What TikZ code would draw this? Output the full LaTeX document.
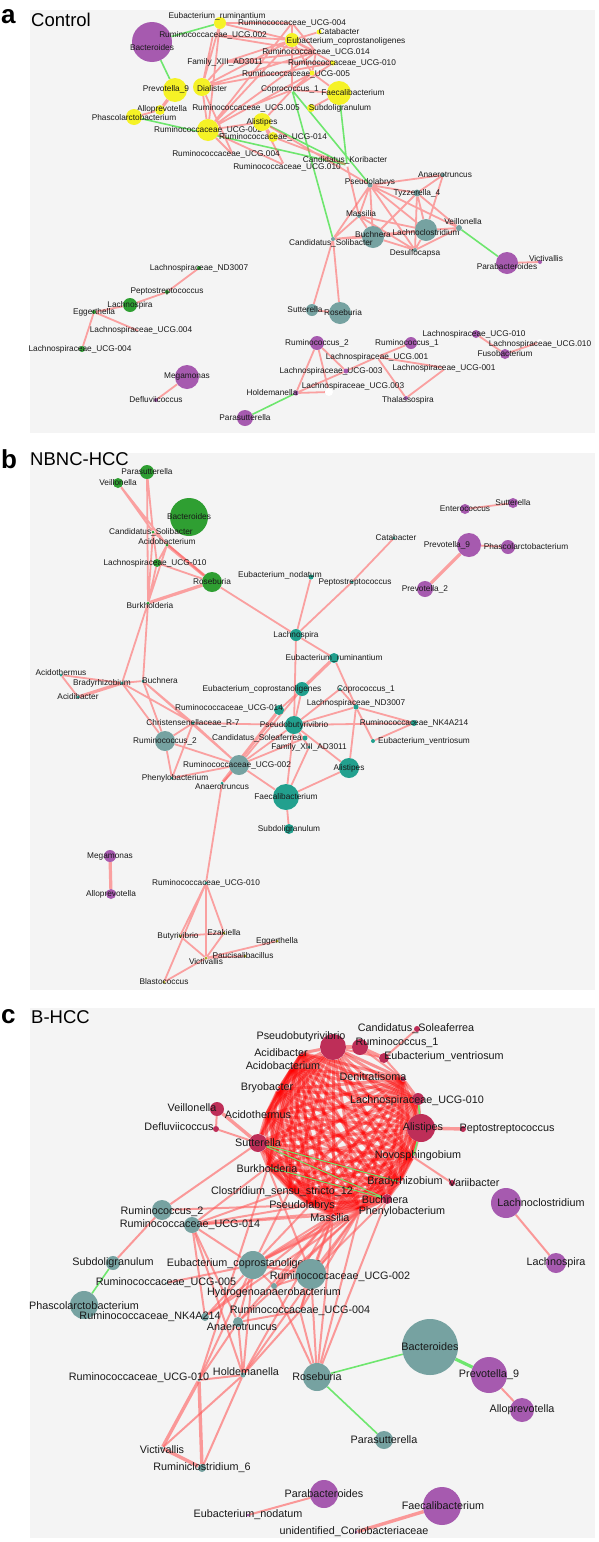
\documentclass[tikz,border=0pt]{standalone}
\usepackage{fontspec}
\setmainfont{Liberation Sans}
\usepackage{tikz}

\definecolor{panelbg}{HTML}{F4F4F4}
\definecolor{yelnode}{HTML}{F5F226}
\definecolor{purnode}{HTML}{A65AAF}
\definecolor{tgnode}{HTML}{76A2A1}
\definecolor{grnnode}{HTML}{2F9F32}
\definecolor{tlnode}{HTML}{22A08E}
\definecolor{crimnode}{HTML}{BE2E58}
\definecolor{olvnode}{HTML}{ABA91A}
\definecolor{edgered}{HTML}{FF5C5C}
\definecolor{edgegreen}{HTML}{6EE66E}

\pgfdeclarelayer{bg}
\pgfsetlayers{bg,main}

\tikzset{
  la/.style={font=\fontsize{8.3}{9}\selectfont, inner sep=0pt, text=black!90},
  lc/.style={font=\fontsize{10.8}{12}\selectfont, inner sep=0pt, text=black!90},
  sz/.style={circle, inner sep=0pt, minimum size=#1pt},
  yel/.style={fill=yelnode}, pur/.style={fill=purnode}, tg/.style={fill=tgnode},
  grn/.style={fill=grnnode}, tl/.style={fill=tlnode}, crim/.style={fill=crimnode},
  olv/.style={fill=olvnode}, wht/.style={fill=white},
  re/.style={draw=edgered, draw opacity=.55, line width=1.8pt},
  reb/.style={re, line width=3.2pt},
  ge/.style={draw=edgegreen, line width=1.6pt},
  geb/.style={ge, line width=3.2pt},
  rc/.style={draw=red, draw opacity=.4, line width=3pt},
  rcl/.style={draw=edgered, draw opacity=.6, line width=2pt},
  panel/.style={fill=panelbg, draw=none},
  letter/.style={font=\bfseries\fontsize{26}{28}\selectfont, anchor=west, inner sep=0pt},
  title/.style={font=\fontsize{18.5}{20}\selectfont, anchor=west, inner sep=0pt}
}

\begin{document}
\begin{tikzpicture}[x=1pt,y=-1pt]
\useasboundingbox (0,0) rectangle (598,1542);
\begin{pgfonlayer}{bg}
\fill[white] (0,0) rectangle (598,1542);
\fill[panel] (30,10) rectangle (595,433);
\fill[panel] (30,453) rectangle (595,990);
\fill[panel] (30,1008) rectangle (595,1538);
\end{pgfonlayer}

% ---------------- a: Control
\node[letter] (leta) at (1,17) {a};
\node[title] (tita) at (31,20) {Control};

\node[pur,sz=40,label={[la,yshift=-6pt]center:Bacteroides}] (abact) at (152,42) {};
\node[yel,sz=12,label={[la,xshift=-3pt,yshift=7pt]center:Eubacterium\_ruminantium}] (aerum) at (220,23) {};
\node[wht,sz=3,label={[la]center:Ruminococcaceae\_UCG.002}] (ar002a) at (213,35) {};
\node[wht,sz=3,label={[la]center:Ruminococcaceae\_UCG-004}] (ar004a) at (292,23) {};
\node[yel,sz=14,label={[la,xshift=54pt,yshift=-1pt]center:Eubacterium\_coprostanoligenes}] (aecop) at (292,40) {};
\node[yel,sz=5,label={[la,xshift=20pt]center:Catabacter}] (acata) at (319,32) {};
\node[wht,sz=3,label={[la]center:Ruminococcaceae\_UCG.014}] (ar014a) at (316,52) {};
\node[wht,sz=3,label={[la]center:Family\_XIII\_AD3011}] (afam) at (225,62) {};
\node[yel,sz=5,label={[la,xshift=9pt]center:Ruminococcaceae\_UCG-010}] (ar010a) at (333,63) {};
\node[yel,sz=5,label={[la,xshift=-16pt,yshift=-1pt]center:Ruminococcaceae\_UCG-005}] (ar005a) at (312,73) {};
\node[yel,sz=24,label={[la,xshift=-9pt,yshift=1pt]center:Prevotella\_9}] (aprev) at (175,90) {};
\node[yel,sz=18,label={[la,xshift=10pt,yshift=-2pt]center:Dialister}] (adial) at (202,87) {};
\node[wht,sz=3,label={[la,xshift=-2pt,yshift=1pt]center:Coprococcus\_1}] (acopr) at (292,90) {};
\node[yel,sz=24,label={[la,xshift=14pt]center:Faecalibacterium}] (afaec) at (339,93) {};
\node[yel,sz=8,label={[la,xshift=29pt]center:Subdoligranulum}] (asubd) at (311,108) {};
\node[yel,sz=10,label={[la,xshift=2pt,yshift=1pt]center:Alloprevotella}] (aallo) at (160,110) {};
\node[yel,sz=16,label={[la,yshift=-1pt]center:Phascolarctobacterium}] (aphas) at (134,117) {};
\node[wht,sz=3,label={[la]center:Ruminococcaceae\_UCG.005}] (ar005b) at (246,108) {};
\node[yel,sz=22,label={[la]center:Ruminococcaceae\_UCG-002}] (ar002b) at (208,130) {};
\node[yel,sz=18,label={[la]center:Alistipes}] (alist) at (262,122) {};
\node[yel,sz=10,label={[la]center:Ruminococcaceae\_UCG-014}] (ar014b) at (273,137) {};
\node[wht,sz=3,label={[la,xshift=-7pt,yshift=1pt]center:Ruminococcaceae\_UCG.004}] (ar004b) at (233,155) {};
\node[wht,sz=3,label={[la,xshift=3pt,yshift=-2pt]center:Ruminococcaceae\_UCG.010}] (ar010b) at (284,165) {};
\node[wht,sz=3,label={[la,xshift=-2pt,yshift=5pt]center:Candidatus\_Koribacter}] (akori) at (347,165) {};
\node[tg,sz=4,label={[la,xshift=2pt]center:Anaerotruncus}] (aanae) at (443,175) {};
\node[tg,sz=5,label={[la,yshift=3pt]center:Pseudolabrys}] (apseu) at (370,185) {};
\node[tg,sz=7,label={[la]center:Tyzzerella\_4}] (atyzz) at (417,193) {};
\node[tg,sz=4,label={[la,xshift=2pt,yshift=2pt]center:Massilia}] (amass) at (359,216) {};
\node[tg,sz=22,label={[la,yshift=2pt]center:Buchnera}] (abuch) at (373,237) {};
\node[tg,sz=22,label={[la,yshift=-3pt]center:Lachnoclostridium}] (alach) at (426,230) {};
\node[tg,sz=6,label={[la,xshift=4pt,yshift=6pt]center:Veillonella}] (aveil) at (459,228) {};
\node[tg,sz=4,label={[la,xshift=-2pt,yshift=-4pt]center:Candidatus\_Solibacter}] (asoli) at (333,239) {};
\node[tg,sz=4,label={[la,yshift=-3pt]center:Desulfocapsa}] (adesu) at (415,250) {};
\node[pur,sz=22,label={[la,yshift=-4pt]center:Parabacteroides}] (aparab) at (507,263) {};
\node[pur,sz=4,label={[la,xshift=6pt,yshift=3pt]center:Victivallis}] (avict) at (540,262) {};
\node[grn,sz=4,label={[la]center:Lachnospiraceae\_ND3007}] (and3) at (199,268) {};
\node[grn,sz=4,label={[la]center:Peptostreptococcus}] (apept) at (167,292) {};
\node[grn,sz=14,label={[la]center:Lachnospira}] (alachs) at (130,305) {};
\node[grn,sz=4,label={[la]center:Eggerthella}] (aegge) at (94,312) {};
\node[wht,sz=6,label={[la,yshift=2pt]center:Lachnospiraceae\_UCG.004}] (al004a) at (141,332) {};
\node[grn,sz=6,label={[la,xshift=-2pt]center:Lachnospiraceae\_UCG-004}] (al004b) at (82,349) {};
\node[tg,sz=12,label={[la,xshift=-7pt]center:Sutterella}] (asutt) at (312,310) {};
\node[tg,sz=22,label={[la,xshift=3pt]center:Roseburia}] (arose) at (340,313) {};
\node[pur,sz=14,label={[la]center:Ruminococcus\_2}] (arum2) at (317,343) {};
\node[pur,sz=12,label={[la,xshift=-4pt]center:Ruminococcus\_1}] (arum1) at (411,343) {};
\node[pur,sz=8,label={[la,xshift=-2pt]center:Lachnospiraceae\_UCG-010}] (al010a) at (476,334) {};
\node[wht,sz=6,label={[la,yshift=-2pt]center:Lachnospiraceae\_UCG.010}] (al010b) at (540,342) {};
\node[pur,sz=10,label={[la]center:Fusobacterium}] (afuso) at (505,354) {};
\node[wht,sz=5,label={[la]center:Lachnospiraceae\_UCG.001}] (al001a) at (377,357) {};
\node[pur,sz=5,label={[la,xshift=-15pt]center:Lachnospiraceae\_UCG-003}] (al003a) at (346,371) {};
\node[wht,sz=5,label={[la,xshift=-2pt]center:Lachnospiraceae\_UCG-001}] (al001b) at (446,368) {};
\node[pur,sz=24,label={[la]center:Megamonas}] (amega) at (187,377) {};
\node[pur,sz=4,label={[la]center:Defluviicoccus}] (adefl) at (156,400) {};
\node[pur,sz=5,label={[la,xshift=-24pt]center:Holdemanella}] (ahold) at (296,393) {};
\node[wht,sz=8,label={[la,xshift=24pt,yshift=6pt]center:Lachnospiraceae\_UCG.003}] (al003b) at (329,392) {};
\node[pur,sz=4,label={[la,xshift=2pt,yshift=-2pt]center:Thalassospira}] (athal) at (406,398) {};
\node[pur,sz=16,label={[la]center:Parasutterella}] (apara) at (245,418) {};

\begin{pgfonlayer}{bg}
% correlations, Control
\draw[ge] (abact) -- (aerum) (abact) -- (aprev) (aphas) -- (akori) (alist) -- (akori)
  (afaec) -- (akori) (acopr) -- (asoli) (acopr) -- (apseu) (aveil) -- (aparab) (ahold) -- (apara);
\draw[reb] (aprev) -- (aallo);
\draw[re] (aallo) -- (aphas)
  (adial) -- (aerum) (adial) -- (ar002a) (adial) -- (aecop) (adial) -- (ar014a) (adial) -- (ar010a)
  (adial) -- (ar002b) (adial) -- (afam) (adial) -- (ar004b)
  (ar002b) -- (aerum) (ar002b) -- (aecop) (ar002b) -- (ar004a) (ar002b) -- (alist) (ar002b) -- (ar014a)
  (ar002b) -- (ar005a) (ar002b) -- (ar004b) (ar002b) -- (ar010b)
  (aerum) -- (aecop) (aerum) -- (ar004a) (aecop) -- (acata) (aecop) -- (ar004a) (aecop) -- (ar014a)
  (aecop) -- (ar010a) (aecop) -- (ar005a) (aecop) -- (acopr) (aecop) -- (afam) (ar002a) -- (aecop) (ar002a) -- (ar014a)
  (ar004a) -- (ar014a) (ar004a) -- (acopr) (ar014a) -- (ar005a) (ar010a) -- (acopr) (ar005a) -- (acopr)
  (acopr) -- (afaec) (acopr) -- (ar005b) (acopr) -- (alist) (afaec) -- (asubd) (afaec) -- (ar005a)
  (afam) -- (ar014a) (afam) -- (ar010a) (alist) -- (ar014b) (alist) -- (apseu) (alist) -- (ar010b)
  (ar014b) -- (akori) (akori) -- (amass);
\draw[re] (apseu) -- (aanae) (apseu) -- (atyzz) (apseu) -- (amass) (apseu) -- (abuch) (apseu) -- (alach)
  (apseu) -- (adesu) (apseu) -- (asoli) (apseu) -- (aveil) (aanae) -- (alach) (aanae) -- (atyzz)
  (atyzz) -- (alach) (atyzz) -- (abuch) (atyzz) -- (adesu) (atyzz) -- (aveil) (amass) -- (abuch)
  (amass) -- (asoli) (amass) -- (alach) (amass) -- (adesu) (abuch) -- (alach) (abuch) -- (asoli)
  (abuch) -- (adesu) (alach) -- (adesu) (alach) -- (aveil) (asoli) -- (alach) (aveil) -- (adesu)
  (asoli) -- (asutt) (asoli) -- (arose) (asutt) -- (arose) (aparab) -- (avict);
\draw[re] (and3) -- (apept) (apept) -- (alachs) (alachs) -- (aegge) (aegge) -- (al004a) (aegge) -- (al004b)
  (amega) -- (adefl) (arum2) -- (ahold) (arum2) -- (al003a) (arum2) -- (al003b) (ahold) -- (al003a)
  (ahold) -- (al003b) (al003a) -- (al001a) (arum1) -- (al001a) (al001a) -- (athal) (al001b) -- (athal)
  (al001a) -- (al001b) (al010a) -- (afuso) (afuso) -- (al010b);
\end{pgfonlayer}

% ---------------- b: NBNC-HCC
\node[letter] (letb) at (1,459) {b};
\node[title] (titb) at (30,459) {NBNC-HCC};

\node[grn,sz=14,label={[la]center:Parasutterella}] (bpara) at (147,472) {};
\node[grn,sz=10,label={[la]center:Veillonella}] (bveil) at (118,483) {};
\node[grn,sz=38,label={[la]center:Bacteroides}] (bbact) at (189,517) {};
\node[grn,sz=3,label={[la,xshift=-2pt]center:Candidatus\_Solibacter}] (bsoli) at (153,532) {};
\node[grn,sz=3,label={[la,yshift=3pt]center:Acidobacterium}] (bacido) at (167,545) {};
\node[grn,sz=8,label={[la,xshift=-2pt]center:Lachnospiraceae\_UCG-010}] (bl010) at (157,563) {};
\node[grn,sz=20,label={[la]center:Roseburia}] (brose) at (212,582) {};
\node[tl,sz=5,label={[la,xshift=-31pt,yshift=2pt]center:Eubacterium\_nodatum}] (bnoda) at (311,577) {};
\node[grn,sz=3,label={[la,xshift=2pt,yshift=-3pt]center:Burkholderia}] (bburk) at (148,603) {};
\node[tl,sz=12,label={[la]center:Lachnospira}] (blachs) at (296,635) {};
\node[tl,sz=10,label={[la]center:Eubacterium\_ruminantium}] (berum) at (334,658) {};
\node[pur,sz=10,label={[la]center:Enterococcus}] (bente) at (465,509) {};
\node[pur,sz=10,label={[la]center:Sutterella}] (bsutt) at (513,503) {};
\node[tl,sz=3,label={[la,xshift=2pt]center:Catabacter}] (bcata) at (394,538) {};
\node[pur,sz=24,label={[la,xshift=-22pt]center:Prevotella\_9}] (bprev9) at (469,545) {};
\node[pur,sz=14,label={[la,xshift=18pt]center:Phascolarctobacterium}] (bphas) at (508,547) {};
\node[tl,sz=3,label={[la,xshift=3pt]center:Peptostreptococcus}] (bpept) at (352,582) {};
\node[pur,sz=16,label={[la]center:Prevotella\_2}] (bprev2) at (425,589) {};
\node[tl,sz=3,label={[la,yshift=2pt]center:Acidothermus}] (bacth) at (61,675) {};
\node[tl,sz=3,label={[la,xshift=-20pt]center:Bradyrhizobium}] (bbrad) at (122,683) {};
\node[tl,sz=3,label={[la,xshift=17pt]center:Buchnera}] (bbuch) at (143,681) {};
\node[tl,sz=3,label={[la]center:Acidibacter}] (bacib) at (78,697) {};
\node[tl,sz=14,label={[la,xshift=-40pt]center:Eubacterium\_coprostanoligenes}] (becop) at (302,689) {};
\node[tl,sz=3,label={[la,xshift=26pt]center:Coprococcus\_1}] (bcopr) at (340,689) {};
\node[tl,sz=5,label={[la,yshift=4pt]center:Lachnospiraceae\_ND3007}] (bnd3) at (356,707) {};
\node[tl,sz=10,label={[la,xshift=-50pt,yshift=2pt]center:Ruminococcaceae\_UCG-014}] (br014) at (279,710) {};
\node[tl,sz=3,label={[la]center:Christensenellaceae\_R-7}] (bchri) at (193,723) {};
\node[tl,sz=18,label={[la]center:Pseudobutyrivibrio}] (bpseu) at (294,725) {};
\node[tl,sz=6,label={[la]center:Ruminococcaceae\_NK4A214}] (bnk4) at (414,723) {};
\node[tg,sz=20,label={[la]center:Ruminococcus\_2}] (brum2) at (165,741) {};
\node[tl,sz=5,label={[la,xshift=-48pt]center:Candidatus\_Soleaferrea}] (bsole) at (305,738) {};
\node[tl,sz=3,label={[la]center:Family\_XIII\_AD3011}] (bfam) at (309,747) {};
\node[tl,sz=4,label={[la,xshift=51pt]center:Eubacterium\_ventriosum}] (bvent) at (373,741) {};
\node[tg,sz=20,label={[la,xshift=-2pt]center:Ruminococcaceae\_UCG-002}] (br002) at (239,765) {};
\node[tl,sz=20,label={[la]center:Alistipes}] (balis) at (349,768) {};
\node[tl,sz=3,label={[la,xshift=3pt]center:Phenylobacterium}] (bphen) at (172,778) {};
\node[tl,sz=3,label={[la,yshift=-4pt]center:Anaerotruncus}] (banae) at (222,783) {};
\node[tl,sz=26,label={[la]center:Faecalibacterium}] (bfaec) at (286,797) {};
\node[tl,sz=10,label={[la]center:Subdoligranulum}] (bsubd) at (289,829) {};
\node[pur,sz=12,label={[la]center:Megamonas}] (bmega) at (110,856) {};
\node[pur,sz=10,label={[la]center:Alloprevotella}] (ballo) at (111,894) {};
\node[tl,sz=3,label={[la]center:Ruminococcaceae\_UCG-010}] (br010) at (206,883) {};
\node[olv,sz=3,label={[la,xshift=-2pt]center:Butyrivibrio}] (bbuty) at (180,936) {};
\node[olv,sz=3,label={[la]center:Ezakiella}] (bezak) at (224,933) {};
\node[olv,sz=3,label={[la]center:Eggerthella}] (begge) at (277,941) {};
\node[olv,sz=3,label={[la,xshift=-2pt]center:Paucisalibacillus}] (bpauc) at (245,956) {};
\node[olv,sz=3,label={[la,yshift=-4pt]center:Victivallis}] (bvict) at (206,958) {};
\node[olv,sz=3,label={[la]center:Blastococcus}] (bblas) at (164,982) {};

\begin{pgfonlayer}{bg}
% correlations, NBNC-HCC
\draw[reb] (bacido) -- (brose) (brose) -- (bburk) (bprev9) -- (bprev2) (bmega) -- (ballo)
  (bacib) -- (bbrad) (br014) -- (banae) (berum) -- (becop);
\draw[re] (bpara) -- (bburk) (bpara) -- (bsoli) (bveil) -- (bsoli) (bveil) -- (bacido) (bsoli) -- (bl010)
  (bsoli) -- (brose) (bsoli) -- (bburk) (bacido) -- (bl010) (bacido) -- (bburk) (bl010) -- (brose)
  (bl010) -- (bburk) (brose) -- (blachs) (bnoda) -- (blachs) (bcata) -- (bpept) (bpept) -- (blachs)
  (bente) -- (bsutt) (bprev9) -- (bphas)
  (bburk) -- (bbrad) (bburk) -- (bbuch) (blachs) -- (berum) (blachs) -- (bpseu) (berum) -- (bnd3);
\draw[re] (bacth) -- (bbrad) (bacth) -- (bacib) (bbrad) -- (bbuch) (bbrad) -- (brum2) (bbrad) -- (bchri)
  (bbuch) -- (brum2) (bbuch) -- (bchri) (bbuch) -- (br002) (brum2) -- (bchri) (brum2) -- (bphen)
  (brum2) -- (br002) (bchri) -- (bphen) (bchri) -- (br002) (bchri) -- (bpseu) (br002) -- (bphen)
  (br002) -- (banae) (br002) -- (bfaec) (br002) -- (bpseu) (br002) -- (becop) (br002) -- (bsole)
  (br014) -- (becop) (becop) -- (bpseu) (bpseu) -- (bnk4) (bpseu) -- (balis) (bpseu) -- (bfam)
  (bnd3) -- (bnk4) (bnd3) -- (bvent) (bnd3) -- (balis) (bnd3) -- (bpseu) (bnk4) -- (bvent)
  (bfaec) -- (balis) (bfaec) -- (bsubd) (bfaec) -- (bfam) (bfaec) -- (bpseu) (bcopr) -- (bpseu)
  (bcopr) -- (bnd3) (banae) -- (br010);
\draw[re] (br010) -- (bbuty) (br010) -- (bvict) (br010) -- (bezak) (br010) -- (bblas) (bbuty) -- (bvict)
  (bbuty) -- (bezak) (bezak) -- (bvict) (bvict) -- (bpauc) (bvict) -- (begge) (bvict) -- (bblas);
\end{pgfonlayer}

% ---------------- c: B-HCC
\node[letter] (letc) at (1,1017) {c};
\node[title] (titc) at (31,1017) {B-HCC};

\node[crim,sz=6,label={[lc,xshift=-1pt]center:Candidatus\_Soleaferrea}] (csole) at (417,1029) {};
\node[crim,sz=26,label={[lc,xshift=-32pt,yshift=10pt]center:Pseudobutyrivibrio}] (cpseu) at (333,1047) {};
\node[crim,sz=16,label={[lc,xshift=37pt,yshift=4pt]center:Ruminococcus\_1}] (crum1) at (360,1047) {};
\node[crim,sz=3,label={[lc,xshift=-21pt]center:Acidibacter}] (cacib) at (302,1053) {};
\node[crim,sz=10,label={[lc,xshift=60pt,yshift=1pt]center:Eubacterium\_ventriosum}] (cvent) at (384,1058) {};
\node[crim,sz=3,label={[lc,xshift=-9pt,yshift=2pt]center:Acidobacterium}] (cacido) at (292,1068) {};
\node[crim,sz=5,label={[lc,xshift=-30pt,yshift=2pt]center:Denitratisoma}] (cdeni) at (403,1079) {};
\node[crim,sz=3,label={[lc,xshift=-11pt,yshift=2pt]center:Bryobacter}] (cbryo) at (278,1090) {};
\node[crim,sz=12,label={[lc,xshift=-1pt,yshift=-2pt]center:Lachnospiraceae\_UCG-010}] (cl010) at (418,1099) {};
\node[crim,sz=14,label={[lc,xshift=-25pt,yshift=1pt]center:Veillonella}] (cveil) at (217,1109) {};
\node[crim,sz=3,label={[lc,xshift=-8pt]center:Acidothermus}] (cacth) at (266,1115) {};
\node[crim,sz=28,label={[lc,xshift=2pt]center:Alistipes}] (calis) at (421,1128) {};
\node[crim,sz=6,label={[lc,xshift=44pt]center:Peptostreptococcus}] (cpept) at (463,1129) {};
\node[crim,sz=6,label={[lc,xshift=-37pt,yshift=2pt]center:Defluviicoccus}] (cdefl) at (216,1129) {};
\node[crim,sz=18,label={[lc]center:Sutterella}] (csutt) at (258,1143) {};
\node[crim,sz=3,label={[lc,xshift=5pt,yshift=1pt]center:Novosphingobium}] (cnovo) at (413,1157) {};
\node[crim,sz=3,label={[lc,xshift=-1pt,yshift=-2pt]center:Burkholderia}] (cburk) at (268,1167) {};
\node[crim,sz=3,label={[lc,xshift=5pt]center:Bradyrhizobium}] (cbrad) at (400,1182) {};
\node[crim,sz=6,label={[lc,xshift=22pt]center:Variibacter}] (cvari) at (452,1183) {};
\node[crim,sz=3,label={[lc,xshift=-8pt,yshift=-2pt]center:Clostridium\_sensu\_stricto\_12}] (cclos) at (290,1190) {};
\node[crim,sz=10,label={[lc,xshift=-2pt,yshift=-1pt]center:Buchnera}] (cbuch) at (387,1199) {};
\node[crim,sz=3,label={[lc,xshift=-8pt,yshift=-1pt]center:Pseudolabrys}] (cpsel) at (310,1205) {};
\node[crim,sz=3,label={[lc,xshift=42pt,yshift=-2pt]center:Phenylobacterium}] (cphen) at (360,1210) {};
\node[crim,sz=3,label={[lc,xshift=-3pt,yshift=-3pt]center:Massilia}] (cmass) at (333,1215) {};
\node[tg,sz=20,label={[lc,yshift=-2pt]center:Ruminococcus\_2}] (crum2) at (162,1210) {};
\node[tg,sz=16,label={[lc,xshift=-2pt]center:Ruminococcaceae\_UCG-014}] (cr014) at (192,1225) {};
\node[tg,sz=28,label={[lc,xshift=-9pt,yshift=1pt]center:Eubacterium\_coprostanoligenes}] (cecop) at (253,1265) {};
\node[tg,sz=30,label={[lc,xshift=29pt,yshift=-3pt]center:Ruminococcaceae\_UCG-002}] (cr002) at (311,1274) {};
\node[tg,sz=14,label={[lc]center:Subdoligranulum}] (csubd) at (113,1263) {};
\node[tg,sz=3,label={[lc]center:Ruminococcaceae\_UCG-005}] (cr005) at (166,1283) {};
\node[tg,sz=6,label={[lc,yshift=-7pt]center:Hydrogenoanaerobacterium}] (chydr) at (274,1286) {};
\node[tg,sz=28,label={[lc,yshift=-1pt]center:Phascolarctobacterium}] (cphas) at (84,1305) {};
\node[tg,sz=8,label={[lc,xshift=-55pt]center:Ruminococcaceae\_NK4A214}] (cnk4) at (205,1317) {};
\node[tg,sz=3,label={[lc]center:Ruminococcaceae\_UCG-004}] (cr004) at (300,1311) {};
\node[tg,sz=10,label={[lc,xshift=4pt,yshift=-5pt]center:Anaerotruncus}] (canae) at (238,1322) {};
\node[tg,sz=5,label={[lc,xshift=3pt,yshift=3pt]center:Holdemanella}] (chold) at (243,1375) {};
\node[tg,sz=3,label={[lc,xshift=-60pt,yshift=2pt]center:Ruminococcaceae\_UCG-010}] (cr010) at (199,1380) {};
\node[tg,sz=28,label={[lc]center:Roseburia}] (crose) at (317,1377) {};
\node[tg,sz=56,label={[lc]center:Bacteroides}] (cbact) at (430,1347) {};
\node[pur,sz=36,label={[lc]center:Prevotella\_9}] (cprev) at (489,1375) {};
\node[pur,sz=24,label={[lc]center:Alloprevotella}] (callo) at (522,1410) {};
\node[tg,sz=18,label={[lc]center:Parasutterella}] (cpara) at (384,1440) {};
\node[tg,sz=3,label={[lc,yshift=-2pt]center:Victivallis}] (cvict) at (162,1448) {};
\node[tg,sz=8,label={[lc]center:Ruminiclostridium\_6}] (cruc6) at (202,1468) {};
\node[pur,sz=28,label={[lc]center:Parabacteroides}] (cparab) at (324,1494) {};
\node[pur,sz=3,label={[lc]center:Eubacterium\_nodatum}] (cnoda) at (248,1515) {};
\node[pur,sz=38,label={[lc,xshift=1pt]center:Faecalibacterium}] (cfaec) at (442,1506) {};
\node[pur,sz=3,label={[lc,xshift=-2pt]center:unidentified\_Coriobacteriaceae}] (cunid) at (356,1532) {};
\node[pur,sz=30,label={[lc,xshift=35pt]center:Lachnoclostridium}] (clcl) at (506,1203) {};
\node[pur,sz=20,label={[lc]center:Lachnospira}] (clsp) at (556,1263) {};

\begin{pgfonlayer}{bg}
% correlations, B-HCC: dense core
\foreach \p [count=\i] in {cpseu,cacib,cacido,cbryo,cacth,csutt,cburk,cclos,cpsel,cmass,cphen,cbuch,cbrad,cnovo,calis,cl010,cdeni} {
  \foreach \q [count=\j] in {cpseu,cacib,cacido,cbryo,cacth,csutt,cburk,cclos,cpsel,cmass,cphen,cbuch,cbrad,cnovo,calis,cl010,cdeni} {
    \ifnum\j>\i \draw[rc] (\p) -- (\q); \fi
  }
}
\foreach \u/\v in {crum1/cdeni,cvent/cdeni,cpseu/cvent,csole/cvent,cveil/cdefl,cdefl/csutt,clcl/clsp,
  cprev/callo,cparab/cnoda,cnovo/cvari,
  crum2/csutt,crum2/cpsel,crum2/csubd,cr014/cmass,cr014/cphen,cr014/cecop,cr014/cnk4,cr014/canae,
  cr014/chold,cr014/cpsel,cr014/cburk,cr014/cclos,cecop/cmass,cecop/cphen,cecop/cbuch,cecop/cbrad,
  cecop/cpsel,cecop/cclos,cecop/cr002,cecop/chydr,cecop/canae,cecop/cnk4,cecop/chold,cecop/cr010,
  cecop/cr005,cr002/cphen,cr002/cmass,cr002/cbuch,cr002/chydr,cr002/cr004,cr002/cburk,cr004/cmass,
  cr004/cphen,cr004/canae,cr004/chold,chydr/cphen,chydr/cmass,canae/cphen,canae/cmass,canae/cr010,
  canae/chold,cnk4/cmass,cnk4/cphen,chold/cr010,chold/cmass,chold/cphen,chold/cvict,chold/cruc6,
  crose/cphen,crose/cmass,crose/cr002,crose/cbuch,crose/cr004,crose/chydr,cburk/cr010}
  \draw[rcl] (\u) -- (\v);
\foreach \u/\v in {cr010/cvict,cr010/cruc6,cvict/cruc6,cveil/csutt,cpseu/crum1,crum1/cvent,calis/cpept,cfaec/cunid}
  \draw[rcl,line width=3.4pt] (\u) -- (\v);
\draw[ge,line width=1pt] (csutt) -- (cbrad) (csutt) -- (cbuch) (cburk) -- (cbuch);
\draw[ge] (calis) -- (cl010) (calis) -- (cnovo) (csubd) -- (cphas) (crose) -- (cbact) (crose) -- (cpara);
\draw[geb] (cbact) -- (cprev);
\end{pgfonlayer}
\end{tikzpicture}
\end{document}
